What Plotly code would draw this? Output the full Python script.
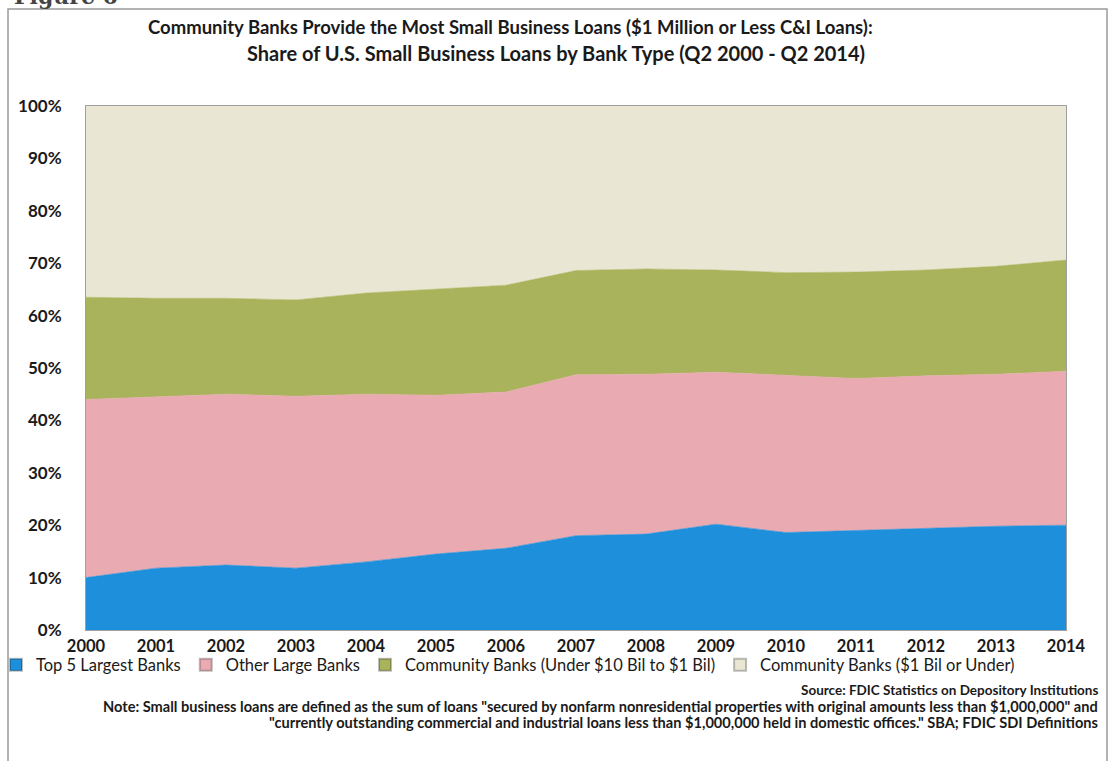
import plotly.graph_objects as go

years = list(range(2000, 2015))
top5_largest = [10.0, 11.8, 12.4, 11.8, 13.0, 14.5, 15.6, 18.0, 18.3, 20.2, 18.6, 19.0, 19.5, 19.8, 20.0]
other_large = [34.0, 32.7, 32.6, 32.8, 32.0, 30.3, 29.8, 30.7, 30.5, 29.0, 30.0, 29.0, 29.0, 29.0, 29.4]
community_mid = [19.5, 18.8, 18.3, 18.4, 19.3, 20.2, 20.4, 19.9, 20.1, 19.5, 19.6, 20.3, 20.2, 20.6, 21.2]
community_small = [36.5, 36.7, 36.7, 37.0, 35.7, 35.0, 34.2, 31.4, 31.1, 31.3, 31.8, 31.7, 31.3, 30.6, 29.4]

series_names = [
    "Top 5 Largest Banks",
    "Other Large Banks",
    "Community Banks (Under $10 Bil to $1 Bil)",
    "Community Banks ($1 Bil or Under)",
]
series_values = [top5_largest, other_large, community_mid, community_small]
series_colors = ["#1e90db", "#e9aab2", "#a9b35b", "#e9e7d4"]

y_tickvals = [0, 10, 20, 30, 40, 50, 60, 70, 80, 90, 100]
y_ticktext = ["0%", "10%", "20%", "30%", "40%", "50%", "60%", "70%", "80%", "90%", "100%"]

FONT = "Lato"
TXT = "#1a1a1a"

# plot-area pixel geometry (used only to place texts/frame)
L, R, T, B = 86, 1066, 106, 630
PW, PH = R - L, B - T


def px(xp):
    return (xp - L) / PW


def py(yp):
    return (B - yp) / PH


fig = go.Figure()
for name, vals, col in zip(series_names, series_values, series_colors):
    fig.add_trace(go.Scatter(
        x=years, y=vals, name=name, mode="lines",
        stackgroup="one", line=dict(width=0.6, color=col),
        fillcolor=col, showlegend=False,
    ))
# legend entries with small square swatches
for name, col in zip(series_names, series_colors):
    fig.add_trace(go.Scatter(
        x=[None], y=[None], name=name, mode="markers",
        marker=dict(symbol="square", size=9, color=col,
                    line=dict(color="rgba(0,0,0,0.25)", width=0.5)),
        showlegend=True,
    ))

fig.update_layout(
    width=1111, height=761,
    margin=dict(l=L, r=1111 - R, t=T, b=761 - B, autoexpand=False),
    paper_bgcolor="white", plot_bgcolor="white",
    font=dict(family=FONT, color=TXT),
    xaxis=dict(
        range=[2000, 2014], tickvals=years, ticktext=[f"<b>{y}</b>" for y in years],
        showgrid=False, zeroline=False, showline=True, linecolor="#a0a0a0", mirror=True,
        ticks="", tickfont=dict(family=FONT, size=16.5, color=TXT), ticklabelstandoff=1,
    ),
    yaxis=dict(
        range=[0, 100], tickvals=y_tickvals, ticktext=[f"<b>{t}</b>" for t in y_ticktext],
        showgrid=False, zeroline=False, showline=True, linecolor="#a0a0a0", mirror=True,
        ticks="", tickfont=dict(family=FONT, size=17, color=TXT), ticklabelstandoff=20,
    ),
    legend=dict(
        orientation="h", x=px(-4), xref="paper", xanchor="left",
        y=py(665), yref="paper", yanchor="middle",
        font=dict(family=FONT, size=16.5, color=TXT),
        itemwidth=30, tracegroupgap=0, traceorder="normal",
        bgcolor="rgba(0,0,0,0)", itemsizing="constant",
    ),
    showlegend=True,
)

# outer frame of the figure
fig.add_shape(type="rect", xref="paper", yref="paper",
              x0=px(8), x1=px(1107), y0=py(790), y1=py(9),
              line=dict(color="#9a9a9a", width=1.5), fillcolor="rgba(0,0,0,0)", layer="below")

fig.add_annotation(text="<b>Figure 6</b>", xref="paper", yref="paper",
                   x=px(12), y=py(11), xanchor="left", yanchor="bottom",
                   showarrow=False, font=dict(family="DejaVu Serif", size=22, color="#444"))

# title lines
fig.add_annotation(text="<b>Community Banks Provide the Most Small Business Loans ($1 Million or Less C&I Loans):</b>",
                   xref="paper", yref="paper", x=px(510), y=py(27), xanchor="center", yanchor="middle",
                   showarrow=False, font=dict(family=FONT, size=18.5, color=TXT))
fig.add_annotation(text="<b>Share of U.S. Small Business Loans by Bank Type (Q2 2000 - Q2 2014)</b>",
                   xref="paper", yref="paper", x=px(556), y=py(53), xanchor="center", yanchor="middle",
                   showarrow=False, font=dict(family=FONT, size=20, color=TXT))

fig.add_annotation(text="<b>Source: FDIC Statistics on Depository Institutions</b>",
                   xref="paper", yref="paper", x=px(1100), y=py(690),
                   xanchor="right", yanchor="middle", showarrow=False,
                   font=dict(family=FONT, size=13.5, color=TXT))
fig.add_annotation(text="<b>Note: Small business loans are defined as the sum of loans \"secured by nonfarm nonresidential properties with original amounts less than $1,000,000\" and</b>",
                   xref="paper", yref="paper", x=px(1100), y=py(706),
                   xanchor="right", yanchor="middle", showarrow=False,
                   font=dict(family=FONT, size=14.6, color=TXT))
fig.add_annotation(text="<b>\"currently outstanding commercial and industrial loans less than $1,000,000 held in domestic offices.\" SBA; FDIC SDI Definitions</b>",
                   xref="paper", yref="paper", x=px(1100), y=py(722),
                   xanchor="right", yanchor="middle", showarrow=False,
                   font=dict(family=FONT, size=14.6, color=TXT))

fig.write_html("out.html")
